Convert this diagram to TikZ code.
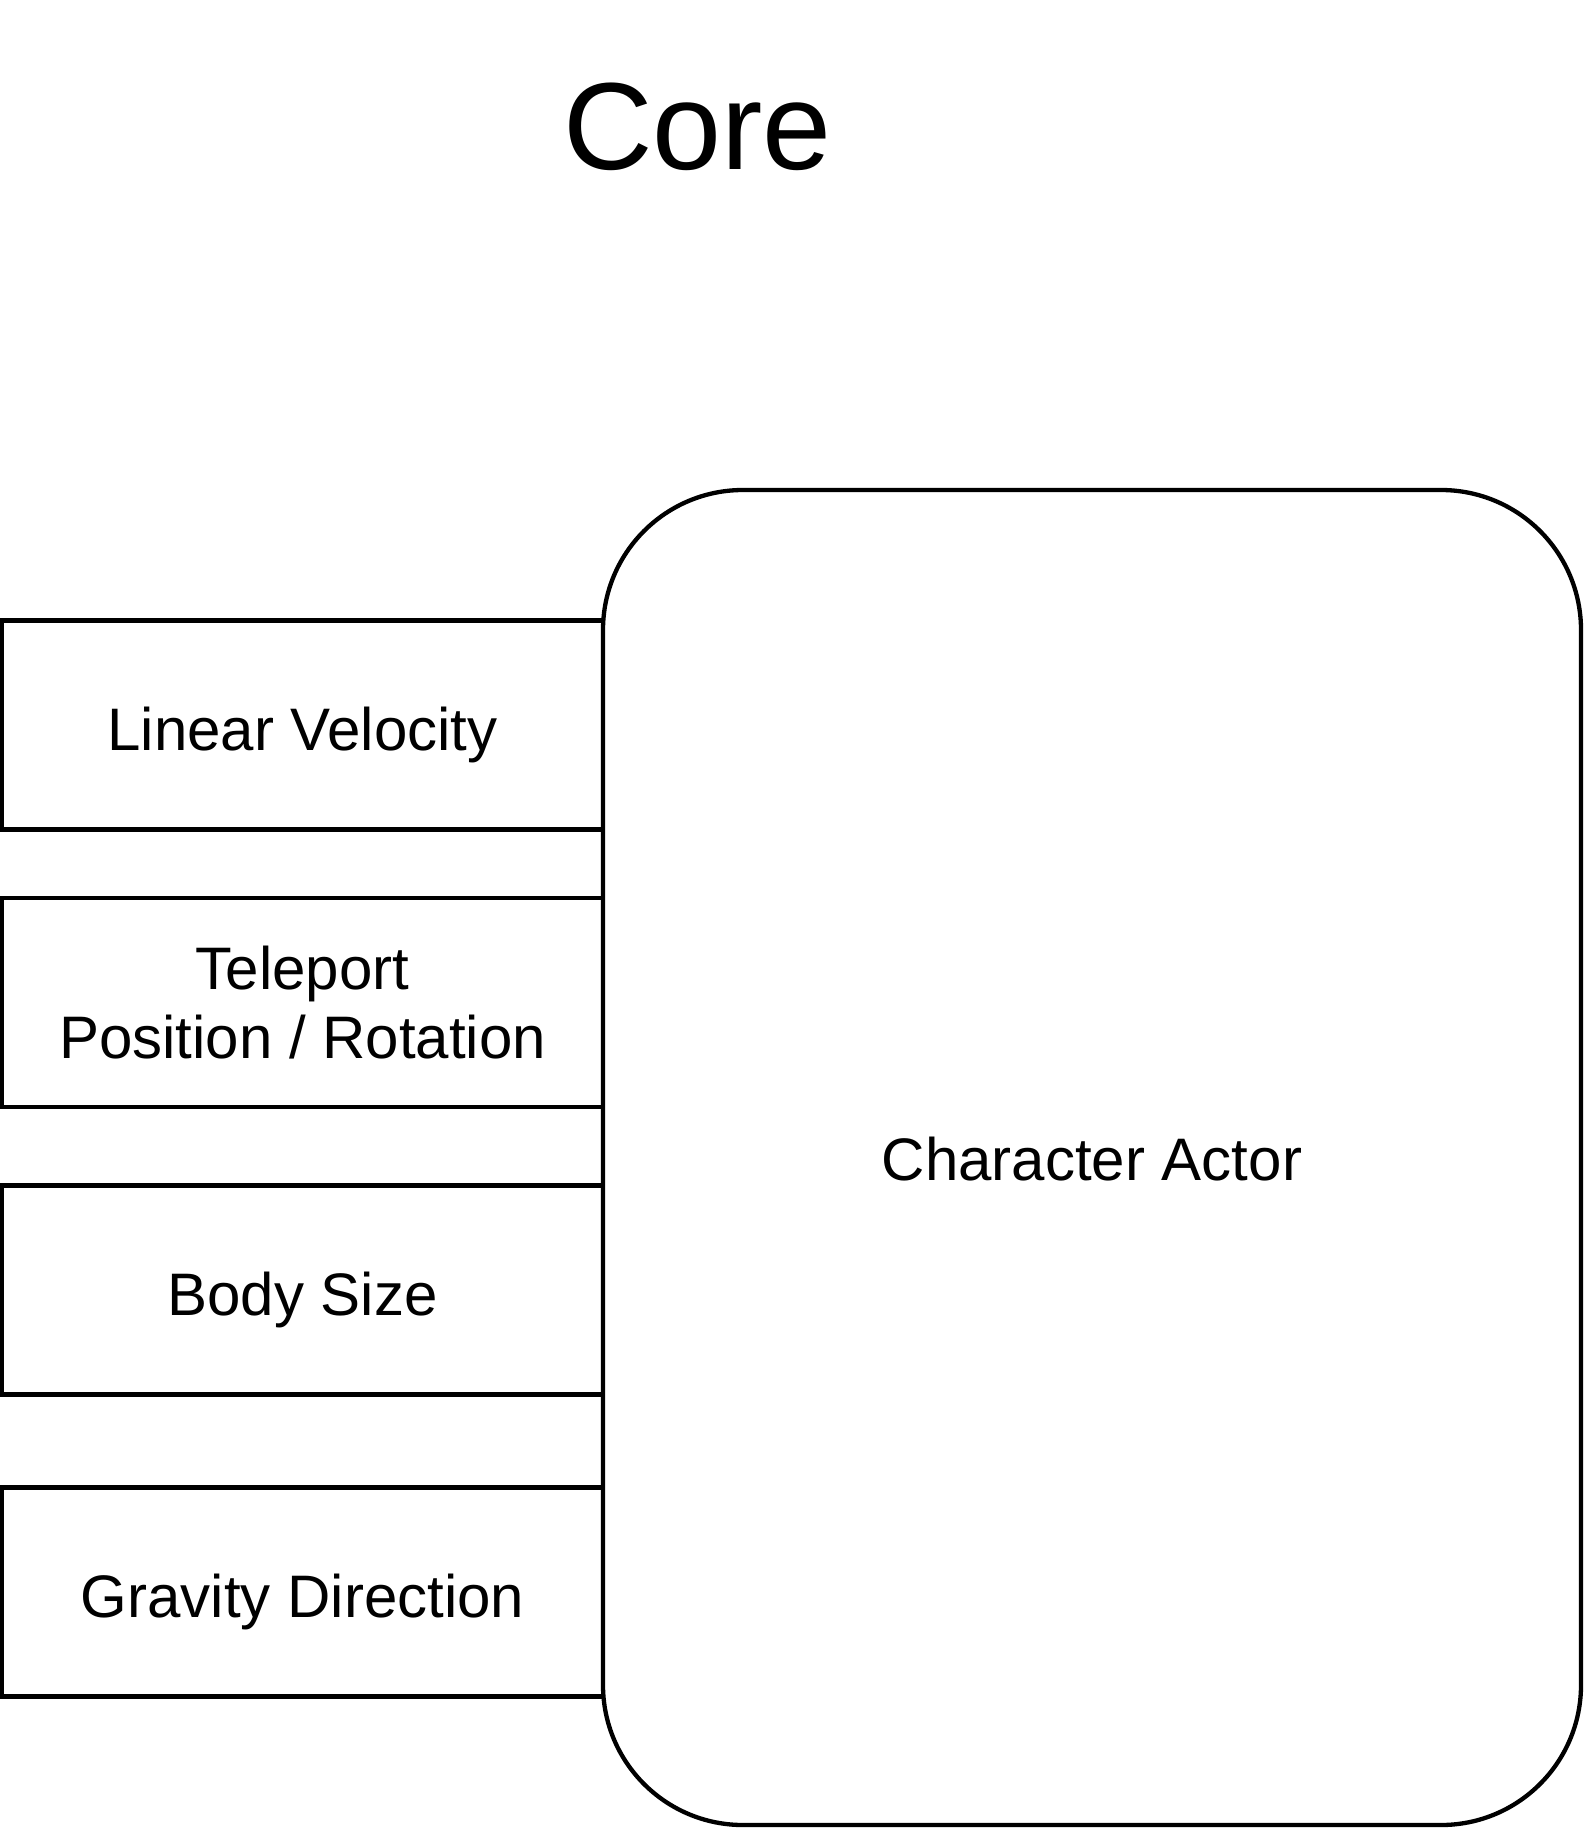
\documentclass[tikz,border=0pt]{standalone}
\usepackage{fontspec}
\setmainfont{Liberation Sans}
\begin{document}
\begin{tikzpicture}[x=1pt, y=-1pt, line width=4.3pt,
    every node/.style={font=\fontsize{60}{69}\selectfont, inner sep=0pt},
    fieldbox/.style={draw, minimum width=601pt, minimum height=209pt, text height=59pt, text depth=9pt, align=center}]
            \useasboundingbox (0,0) rectangle (1585,1830);
            \node (title) [anchor=base, font=\fontsize{124}{148}\selectfont] at (697.5,170) {Core};
            \node (actor) [draw, rounded corners=140pt, minimum width=978pt, minimum height=1335pt, text height=57pt, text depth=11pt] at (1092,1157.5) {Character Actor};
            \node (velocity) [fieldbox] at (302.5,725) {Linear Velocity};
            \node (teleport) [fieldbox, text height={}, text depth={}] at (302.5,1002.5) {Teleport\\Position / Rotation};
            \node (bodysize) [fieldbox] at (302.5,1290) {Body Size};
            \node (gravity) [fieldbox] at (302.5,1592) {Gravity Direction};
        \end{tikzpicture}
\end{document}
